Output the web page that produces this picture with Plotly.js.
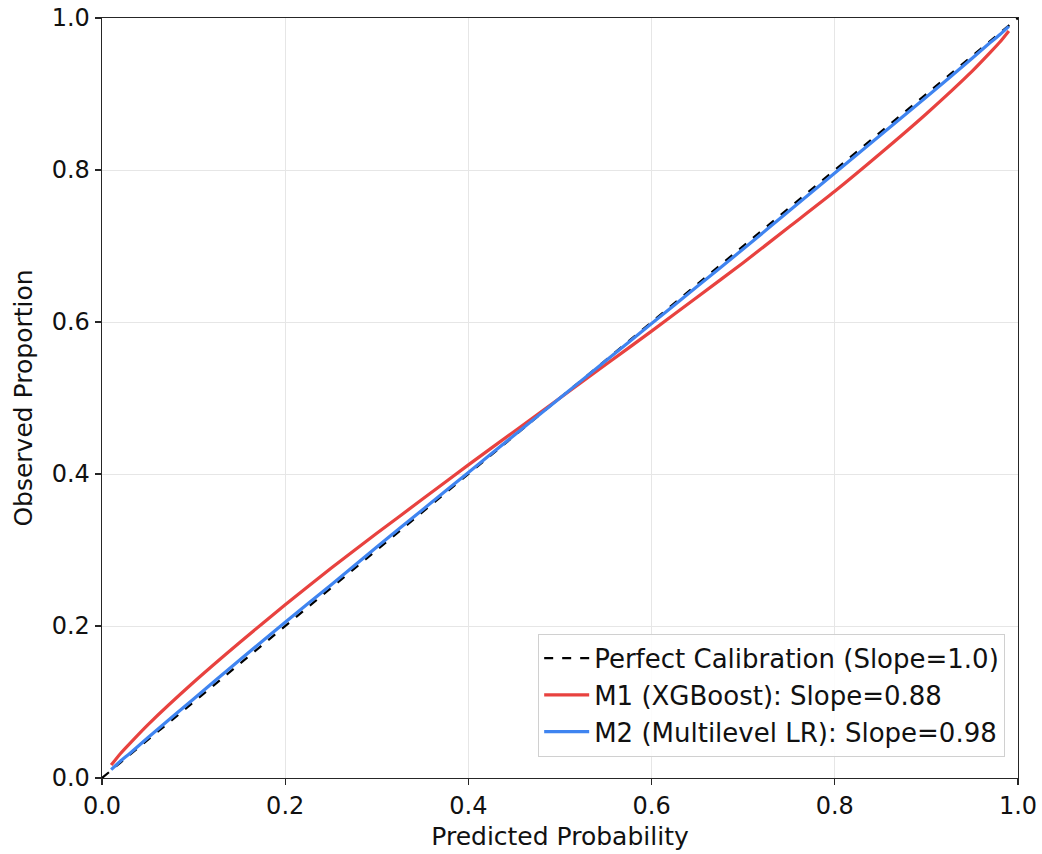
<!DOCTYPE html>
<html>
<head>
<meta charset="utf-8">
<script src="https://cdn.plot.ly/plotly-3.0.1.min.js"></script>
<style>html,body{margin:0;padding:0;background:#fff;}#chart{width:1042px;height:854px;}</style>
</head>
<body>
<div id="chart"></div>
<script>
// Perfect calibration reference line
const perfectX = [0, 1];
const perfectY = [0, 1];

// Predicted probability grid
const predicted = [0.01, 0.02, 0.03, 0.05, 0.10, 0.15, 0.20, 0.25, 0.30, 0.35, 0.40, 0.45, 0.50,
                   0.55, 0.60, 0.65, 0.70, 0.75, 0.80, 0.85, 0.90, 0.95, 0.97, 0.98, 0.99];

// M1 (XGBoost) observed proportion
const m1Observed = [0.017, 0.032, 0.045, 0.070, 0.126, 0.178, 0.228, 0.276, 0.322, 0.367, 0.412, 0.456, 0.500,
                    0.544, 0.588, 0.633, 0.678, 0.725, 0.772, 0.822, 0.874, 0.930, 0.955, 0.968, 0.983];

// M2 (Multilevel LR) observed proportion
const m2Observed = [0.011, 0.022, 0.032, 0.053, 0.104, 0.155, 0.205, 0.254, 0.304, 0.353, 0.402, 0.451, 0.500,
                    0.549, 0.598, 0.647, 0.696, 0.746, 0.796, 0.846, 0.896, 0.947, 0.968, 0.978, 0.989];

const seriesNames = ["Perfect Calibration (Slope=1.0)",
                     "M1 (XGBoost): Slope=0.88",
                     "M2 (Multilevel LR): Slope=0.98"];
const tickVals = [0, 0.2, 0.4, 0.6, 0.8, 1.0];

const traces = [
  {x: perfectX, y: perfectY, mode: "lines", name: seriesNames[0],
   line: {color: "#000000", width: 2.2, dash: "dash"}},
  {x: predicted, y: m1Observed, mode: "lines", name: seriesNames[1],
   line: {color: "#e8423f", width: 3.2, shape: "spline", smoothing: 0.6}},
  {x: predicted, y: m2Observed, mode: "lines", name: seriesNames[2],
   line: {color: "#3f84f0", width: 3.2, shape: "spline", smoothing: 0.6}}
];

const axisCommon = {
  range: [0, 1], tickvals: tickVals, tickformat: ".1f",
  showgrid: true, gridcolor: "#e6e6e6", gridwidth: 1,
  zeroline: false, showline: true, linecolor: "#262626", linewidth: 1.4,
  mirror: true, ticks: "outside", ticklen: 6, tickwidth: 1.4, tickcolor: "#262626",
  tickfont: {size: 24, color: "#111"}
};

const layout = {
  width: 1042, height: 854,
  margin: {l: 102, r: 24, t: 18, b: 76},
  paper_bgcolor: "#fff", plot_bgcolor: "#fff",
  font: {family: "DejaVu Sans, sans-serif", size: 24, color: "#111"},
  showlegend: true,
  xaxis: Object.assign({}, axisCommon, {title: {text: "Predicted Probability", font: {size: 25}, standoff: 8}}),
  yaxis: Object.assign({}, axisCommon, {title: {text: "Observed Proportion", font: {size: 25}, standoff: 12}}),
  legend: {x: 0.986, y: 0.028, xanchor: "right", yanchor: "bottom",
           bgcolor: "rgba(255,255,255,0.85)", bordercolor: "#d0d0d0", borderwidth: 1,
           font: {size: 26}, tracegroupgap: 0, itemwidth: 45}
};

Plotly.newPlot("chart", traces, layout, {displayModeBar: false, staticPlot: true});
</script>
</body>
</html>
